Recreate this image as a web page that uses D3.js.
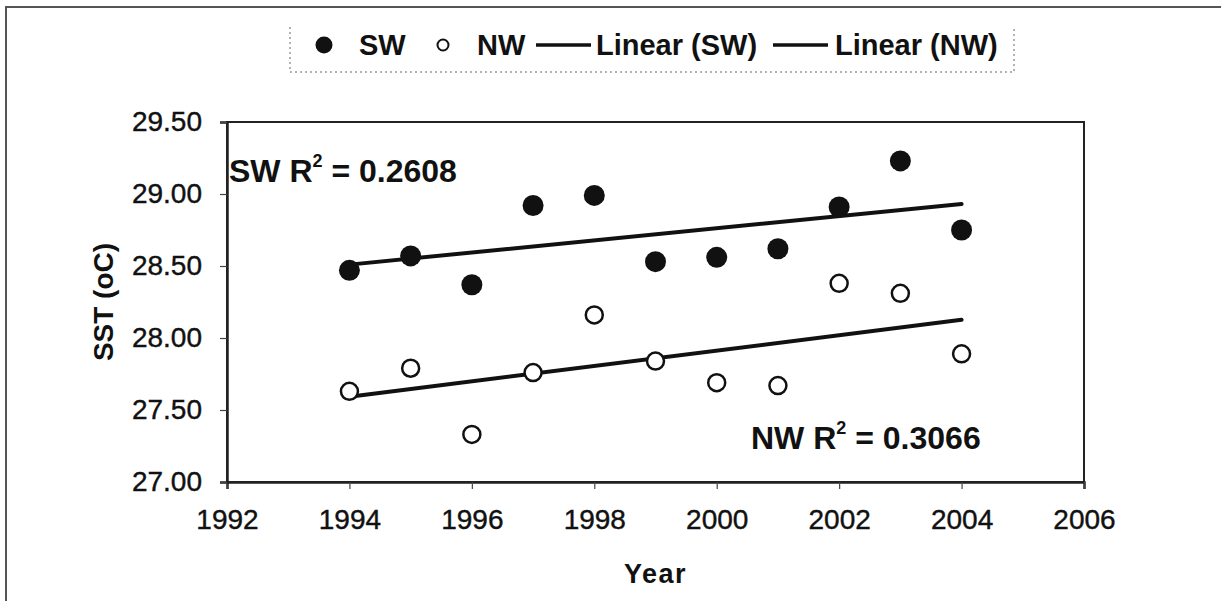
<!DOCTYPE html>
<html>
<head>
<meta charset="utf-8">
<script src="https://cdn.jsdelivr.net/npm/d3@7"></script>
<style>
  body { margin: 0; background: #fff; }
  svg { display: block; font-family: "Liberation Sans", Arial, sans-serif; }
</style>
</head>
<body>
<script>
const width = 1221;
const height = 601;

// data
const years = [1994, 1995, 1996, 1997, 1998, 1999, 2000, 2001, 2002, 2003, 2004];
const swValues = [28.47, 28.57, 28.37, 28.92, 28.99, 28.53, 28.56, 28.62, 28.91, 29.23, 28.75];
const nwValues = [27.63, 27.79, 27.33, 27.76, 28.16, 27.84, 27.69, 27.67, 28.38, 28.31, 27.89];
const xTicks = [1992, 1994, 1996, 1998, 2000, 2002, 2004, 2006];
const yTicks = [27.00, 27.50, 28.00, 28.50, 29.00, 29.50];
const legendLabels = ["SW", "NW", "Linear (SW)", "Linear (NW)"];

const svg = d3.select("body").append("svg")
    .attr("width", width)
    .attr("height", height);

const x = d3.scaleLinear().domain([1992, 2006]).range([227, 1084]);
const y = d3.scaleLinear().domain([27, 29.5]).range([482, 122]);

// outer frame (left and top only)
svg.append("path")
    .attr("d", `M6,${height} L6,7 L${width},7`)
    .attr("fill", "none")
    .attr("stroke", "#555")
    .attr("stroke-width", 2);

// plot box
svg.append("rect")
    .attr("x", x(1992)).attr("y", y(29.5))
    .attr("width", x(2006) - x(1992)).attr("height", y(27) - y(29.5))
    .attr("fill", "none")
    .attr("stroke", "#222")
    .attr("stroke-width", 2);

// axes
const xAxis = svg.append("g")
    .attr("transform", `translate(0,${y(27)})`)
    .call(d3.axisBottom(x).tickValues(xTicks).tickFormat(d3.format("d")).tickSize(7).tickPadding(20));
const yAxis = svg.append("g")
    .attr("transform", `translate(${x(1992)},0)`)
    .call(d3.axisLeft(y).tickValues(yTicks).tickFormat(d3.format(".2f")).tickSize(7).tickPadding(18));

[xAxis, yAxis].forEach(g => {
    g.select(".domain").attr("stroke", "#222").attr("stroke-width", 2.5);
    g.selectAll(".tick line").attr("stroke", "#444").attr("stroke-width", 1.2);
    g.selectAll(".tick text")
        .attr("fill", "#111")
        .attr("stroke", "#111")
        .attr("stroke-width", 0.4)
        .style("font-size", "28px")
        .style("font-family", "'Liberation Sans', Arial, sans-serif");
});

// axis titles
svg.append("text")
    .attr("x", (x(1992) + x(2006)) / 2)
    .attr("y", 583)
    .attr("text-anchor", "middle")
    .style("font-size", "27px")
    .style("font-weight", "bold")
    .style("letter-spacing", "1.5px")
    .attr("fill", "#111")
    .text("Year");

svg.append("text")
    .attr("transform", `translate(113,${(y(27) + y(29.5)) / 2}) rotate(-90)`)
    .attr("text-anchor", "middle")
    .style("font-size", "28px")
    .style("font-weight", "bold")
    .attr("fill", "#111")
    .text("SST (oC)");

// linear trend lines
function fit(xs, ys) {
    const mx = d3.mean(xs), my = d3.mean(ys);
    const b = d3.sum(xs, (v, i) => (v - mx) * (ys[i] - my)) / d3.sum(xs, v => (v - mx) ** 2);
    return v => my + b * (v - mx);
}
const swFit = fit(years, swValues);
const nwFit = fit(years, nwValues);
const line = d3.line().x(d => x(d[0])).y(d => y(d[1]));
const ends = [years[0], years[years.length - 1]];

[swFit, nwFit].forEach(f => {
    svg.append("path")
        .attr("d", line(ends.map(v => [v, f(v)])))
        .attr("fill", "none")
        .attr("stroke", "#111")
        .attr("stroke-width", 4)
        .attr("stroke-linecap", "round");
});

// points
svg.append("g")
    .selectAll("circle")
    .data(years)
    .enter()
    .append("circle")
    .attr("cx", d => x(d))
    .attr("cy", (d, i) => y(swValues[i]))
    .attr("r", 10.5)
    .attr("fill", "#111");

svg.append("g")
    .selectAll("circle")
    .data(years)
    .enter()
    .append("circle")
    .attr("cx", d => x(d))
    .attr("cy", (d, i) => y(nwValues[i]))
    .attr("r", 8.5)
    .attr("fill", "#fff")
    .attr("stroke", "#111")
    .attr("stroke-width", 2.5);

// R squared notes
function note(px, py, name, val) {
    const t = svg.append("text")
        .attr("x", px).attr("y", py)
        .style("font-size", "32px")
        .style("font-weight", "bold")
        .attr("fill", "#111");
    t.append("tspan").text(name + " R");
    t.append("tspan").attr("dy", -15).style("font-size", "18px").text("2");
    t.append("tspan").attr("dy", 15).text(" = " + val);
}
note(229, 182, "SW", "0.2608");
note(751, 449, "NW", "0.3066");

// legend
const lg = svg.append("g");
lg.append("path")
    .attr("d", "M290,27 L290,72 L1014,72 L1014,27")
    .attr("fill", "none")
    .attr("stroke", "#666")
    .attr("stroke-width", 1)
    .attr("stroke-dasharray", "2,3");

lg.append("circle").attr("cx", 324).attr("cy", 45).attr("r", 8.5).attr("fill", "#111");
lg.append("circle").attr("cx", 443).attr("cy", 45).attr("r", 5.5)
    .attr("fill", "#fff").attr("stroke", "#111").attr("stroke-width", 2);
lg.append("line").attr("x1", 536).attr("x2", 591).attr("y1", 45).attr("y2", 45)
    .attr("stroke", "#111").attr("stroke-width", 3.5);
lg.append("line").attr("x1", 773).attr("x2", 828).attr("y1", 45).attr("y2", 45)
    .attr("stroke", "#111").attr("stroke-width", 3.5);

const legendX = [359, 477, 596, 835];
lg.selectAll("text.lab")
    .data(legendLabels)
    .enter()
    .append("text")
    .attr("class", "lab")
    .attr("x", (d, i) => legendX[i])
    .attr("y", 55)
    .style("font-size", "29px")
    .style("font-weight", "bold")
    .attr("fill", "#111")
    .text(d => d);
</script>
</body>
</html>
